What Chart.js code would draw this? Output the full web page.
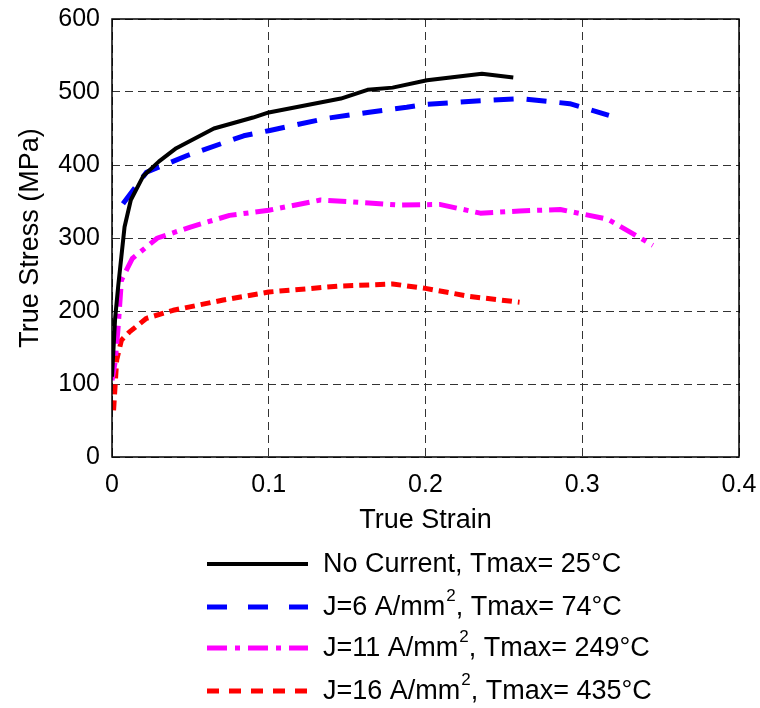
<!DOCTYPE html>
<html>
<head>
<meta charset="utf-8">
<script src="https://cdn.jsdelivr.net/npm/chart.js@4"></script>
<style>
  html, body { margin: 0; padding: 0; background: #fff; }
  #wrap { width: 760px; height: 708px; }
</style>
</head>
<body>
<div id="wrap"><canvas id="chart" width="760" height="708"></canvas></div>
<script>
// values
var noCurrentStrain = [0, 0.001, 0.002, 0.004, 0.006, 0.008, 0.012, 0.02, 0.03, 0.041, 0.065, 0.09, 0.1, 0.146, 0.163, 0.179, 0.201, 0.236, 0.256];
var noCurrentStress = [110, 150, 190, 235, 275, 315, 352, 385, 405, 423, 450, 465, 472, 491, 503, 506, 516, 525, 520];

var j6Strain = [0.007, 0.022, 0.048, 0.084, 0.1, 0.137, 0.163, 0.188, 0.2, 0.235, 0.26, 0.292, 0.317];
var j6Stress = [347, 390, 413, 440, 447, 464, 472, 479, 483, 488, 491, 484, 468];

var j11Strain = [0, 0.002, 0.004, 0.006, 0.013, 0.029, 0.05, 0.075, 0.1, 0.133, 0.15, 0.184, 0.209, 0.235, 0.26, 0.286, 0.316, 0.345];
var j11Stress = [105, 130, 180, 242, 272, 300, 315, 331, 338, 352, 350, 345, 346, 334, 337, 339, 326, 290];

var j16Strain = [0.001, 0.003, 0.006, 0.011, 0.022, 0.039, 0.071, 0.1, 0.144, 0.179, 0.2, 0.228, 0.26];
var j16Stress = [64, 133, 160, 171, 190, 201, 215, 226, 234, 237, 231, 220, 212];

var xTicks = [0, 0.1, 0.2, 0.3, 0.4];
var yTicks = [0, 100, 200, 300, 400, 500, 600];

var legendMain = ['No Current, Tmax= 25\u00B0C', 'J=6 A/mm', 'J=11 A/mm', 'J=16 A/mm'];
var legendTail = ['', ', Tmax= 74\u00B0C', ', Tmax= 249\u00B0C', ', Tmax= 435\u00B0C'];

var FONT = '"Liberation Sans", Arial, Helvetica, sans-serif';

function pts(xs, ys) {
  return xs.map(function(x, i) { return { x: x, y: ys[i] }; });
}

var series = [
  { data: pts(noCurrentStrain, noCurrentStress), color: '#000000', width: 4, dash: [], legendDash: [] },
  { data: pts(j6Strain, j6Stress), color: '#0000ff', width: 5, dash: [20, 13], legendDash: [20, 21] },
  { data: pts(j11Strain, j11Stress), color: '#ff00ff', width: 5, dash: [18, 7, 5, 7], legendDash: [20, 8, 5, 8] },
  { data: pts(j16Strain, j16Stress), color: '#ff0000', width: 5, dash: [10, 6], legendDash: [12, 10] }
];

// frame box and legend below the axes
var framePlugin = {
  id: 'frame',
  afterDraw: function(chart) {
    var ctx = chart.ctx, a = chart.chartArea;
    ctx.save();
    ctx.strokeStyle = '#000';
    ctx.lineWidth = 1.5;
    ctx.setLineDash([]);
    ctx.strokeRect(a.left, a.top, a.right - a.left, a.bottom - a.top);

    var rows = [564, 607, 648, 691];
    ctx.textBaseline = 'middle';
    ctx.fillStyle = '#000';
    series.forEach(function(s, i) {
      var y = rows[i];
      ctx.beginPath();
      ctx.strokeStyle = s.color;
      ctx.lineWidth = s.width;
      ctx.setLineDash(s.legendDash);
      ctx.moveTo(207, y);
      ctx.lineTo(308, y);
      ctx.stroke();
      ctx.setLineDash([]);
      var x = 323;
      ctx.font = '27px ' + FONT;
      ctx.fillText(legendMain[i], x, y + 1);
      if (legendTail[i]) {
        x += ctx.measureText(legendMain[i]).width;
        ctx.font = '17px ' + FONT;
        ctx.fillText('2', x + 1, y - 11);
        x += ctx.measureText('2').width + 1;
        ctx.font = '27px ' + FONT;
        ctx.fillText(legendTail[i], x, y + 1);
      }
    });
    ctx.restore();
  }
};

new Chart(document.getElementById('chart'), {
  type: 'line',
  data: {
    datasets: series.map(function(s) {
      return {
        data: s.data,
        borderColor: s.color,
        borderWidth: s.width,
        borderDash: s.dash,
        pointRadius: 0,
        fill: false,
        tension: 0,
        borderJoinStyle: 'round'
      };
    })
  },
  options: {
    responsive: false,
    animation: false,
    layout: { padding: { left: 0, top: 19, right: 21, bottom: 169 } },
    plugins: { legend: { display: false }, tooltip: { enabled: false } },
    scales: {
      x: {
        type: 'linear',
        min: 0, max: 0.4,
        afterBuildTicks: function(axis) { axis.ticks = xTicks.map(function(v) { return { value: v }; }); },
        afterFit: function(axis) { axis.height = 82; axis.paddingLeft = 0; axis.paddingRight = 0; },
        border: { display: false, dash: [8, 5] },
        grid: { color: '#333', lineWidth: 1, drawTicks: false },
        ticks: { color: '#000', padding: 13, maxRotation: 0, font: { family: FONT, size: 25 },
                 callback: function(v) { return String(v); } },
        title: { display: true, text: 'True Strain', color: '#000', font: { family: FONT, size: 27 }, padding: { top: 0, bottom: 2 } }
      },
      y: {
        min: 0, max: 600,
        afterBuildTicks: function(axis) { axis.ticks = yTicks.map(function(v) { return { value: v }; }); },
        afterFit: function(axis) { axis.width = 112; axis.paddingTop = 0; axis.paddingBottom = 0; },
        border: { display: false, dash: [8, 5] },
        grid: { color: '#333', lineWidth: 1, drawTicks: false },
        ticks: { color: '#000', padding: 12, font: { family: FONT, size: 25 } },
        title: { display: true, text: 'True Stress (MPa)', color: '#000', font: { family: FONT, size: 27 }, padding: { top: 14, bottom: 0 } }
      }
    }
  },
  plugins: [framePlugin]
});
</script>
</body>
</html>
